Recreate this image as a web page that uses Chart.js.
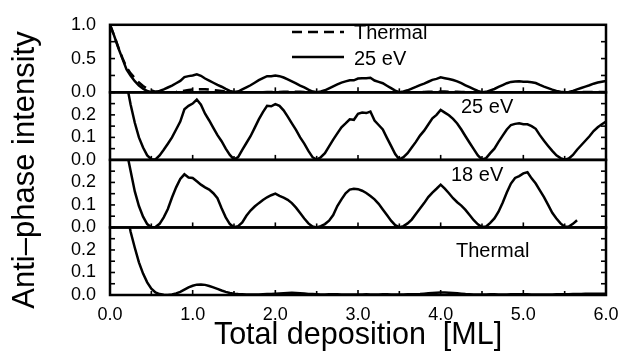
<!DOCTYPE html>
<html>
<head>
<meta charset="utf-8">
<script src="https://cdn.jsdelivr.net/npm/chart.js@4/dist/chart.umd.min.js"></script>
<style>
  html, body { margin: 0; padding: 0; background: #fff; }
  canvas { display: block; }
</style>
</head>
<body>
<canvas id="depositionChart" width="621" height="354"></canvas>
<script>
// deposition in ML, sampled every 0.05
const deposition = [
  0.00, 0.05, 0.10, 0.15, 0.20, 0.25, 0.30, 0.35, 0.40, 0.45, 0.50, 0.55, 0.60, 0.65, 0.70, 0.75, 0.80, 0.85, 0.90, 0.95,
  1.00, 1.05, 1.10, 1.15, 1.20, 1.25, 1.30, 1.35, 1.40, 1.45, 1.50, 1.55, 1.60, 1.65, 1.70, 1.75, 1.80, 1.85, 1.90, 1.95,
  2.00, 2.05, 2.10, 2.15, 2.20, 2.25, 2.30, 2.35, 2.40, 2.45, 2.50, 2.55, 2.60, 2.65, 2.70, 2.75, 2.80, 2.85, 2.90, 2.95,
  3.00, 3.05, 3.10, 3.15, 3.20, 3.25, 3.30, 3.35, 3.40, 3.45, 3.50, 3.55, 3.60, 3.65, 3.70, 3.75, 3.80, 3.85, 3.90, 3.95,
  4.00, 4.05, 4.10, 4.15, 4.20, 4.25, 4.30, 4.35, 4.40, 4.45, 4.50, 4.55, 4.60, 4.65, 4.70, 4.75, 4.80, 4.85, 4.90, 4.95,
  5.00, 5.05, 5.10, 5.15, 5.20, 5.25, 5.30, 5.35, 5.40, 5.45, 5.50, 5.55, 5.60, 5.65, 5.70, 5.75, 5.80, 5.85, 5.90, 5.95, 6.00
];

const intensity25eV = [
  1.0, 0.84, 0.66, 0.50, 0.34, 0.245, 0.165, 0.10, 0.055, 0.02, 0.003, 0.002, 0.02, 0.045, 0.072, 0.10, 0.135, 0.17, 0.225, 0.24,
  0.25, 0.268, 0.245, 0.205, 0.175, 0.142, 0.11, 0.083, 0.05, 0.022, 0.002, 0.012, 0.045, 0.075, 0.105, 0.142, 0.18, 0.212, 0.24, 0.238,
  0.248, 0.24, 0.22, 0.192, 0.162, 0.133, 0.10, 0.072, 0.04, 0.012, 0.001, 0.012, 0.03, 0.06, 0.09, 0.118, 0.145, 0.162, 0.18, 0.178,
  0.205, 0.21, 0.208, 0.215, 0.175, 0.155, 0.135, 0.098, 0.062, 0.026, 0.002, 0.012, 0.03, 0.055, 0.08, 0.108, 0.13, 0.157, 0.185, 0.20,
  0.222, 0.21, 0.198, 0.182, 0.162, 0.135, 0.105, 0.076, 0.048, 0.02, 0.002, 0.008, 0.03, 0.05, 0.08, 0.108, 0.135, 0.155, 0.16, 0.163,
  0.158, 0.158, 0.15, 0.138, 0.11, 0.085, 0.062, 0.04, 0.02, 0.008, 0.001, 0.006, 0.022, 0.045, 0.065, 0.085, 0.105, 0.128, 0.145, 0.158, 0.17
];

// 18 eV run stops at about 5.65 ML
const intensity18eV = [
  1.0, 0.84, 0.66, 0.50, 0.34, 0.25, 0.16, 0.095, 0.048, 0.015, 0.001, 0.002, 0.016, 0.045, 0.082, 0.133, 0.178, 0.215, 0.236, 0.222,
  0.22, 0.205, 0.19, 0.178, 0.168, 0.152, 0.13, 0.085, 0.045, 0.015, 0.001, 0.006, 0.022, 0.052, 0.075, 0.093, 0.108, 0.122, 0.134, 0.143,
  0.15, 0.14, 0.132, 0.123, 0.108, 0.088, 0.064, 0.04, 0.018, 0.004, 0.0, 0.006, 0.015, 0.03, 0.055, 0.095, 0.125, 0.152, 0.168, 0.172,
  0.17, 0.163, 0.153, 0.14, 0.125, 0.105, 0.08, 0.055, 0.03, 0.01, 0.001, 0.006, 0.018, 0.035, 0.06, 0.084, 0.108, 0.135, 0.155, 0.172,
  0.19, 0.172, 0.152, 0.13, 0.112, 0.097, 0.078, 0.055, 0.032, 0.014, 0.002, 0.004, 0.02, 0.04, 0.07, 0.11, 0.155, 0.195, 0.22, 0.228,
  0.24, 0.245, 0.218, 0.195, 0.165, 0.135, 0.10, 0.065, 0.04, 0.018, 0.003, 0.004, 0.016, 0.032
];

const intensityThermal = [
  1.0, 0.84, 0.67, 0.51, 0.37, 0.28, 0.21, 0.145, 0.095, 0.056, 0.028, 0.011, 0.004, 0.001, 0.0, 0.002, 0.007, 0.014, 0.024, 0.034,
  0.041, 0.046, 0.047, 0.045, 0.04, 0.034, 0.027, 0.02, 0.014, 0.009, 0.006, 0.004, 0.003, 0.002, 0.002, 0.002, 0.002, 0.003, 0.004, 0.005,
  0.006, 0.007, 0.008, 0.009, 0.01, 0.009, 0.008, 0.007, 0.005, 0.004, 0.003, 0.002, 0.002, 0.003, 0.003, 0.003, 0.002, 0.002, 0.002, 0.002,
  0.002, 0.002, 0.003, 0.002, 0.002, 0.002, 0.003, 0.003, 0.002, 0.002, 0.002, 0.002, 0.003, 0.003, 0.003, 0.004, 0.006, 0.008, 0.009, 0.01,
  0.011, 0.011, 0.01, 0.009, 0.008, 0.006, 0.004, 0.003, 0.002, 0.002, 0.002, 0.002, 0.003, 0.003, 0.002, 0.002, 0.002, 0.003, 0.003, 0.003,
  0.003, 0.003, 0.002, 0.002, 0.002, 0.002, 0.002, 0.002, 0.003, 0.003, 0.003, 0.003, 0.004, 0.004, 0.004, 0.005, 0.005, 0.005, 0.005, 0.005, 0.005
];

const xTickLabels = ["0.0", "1.0", "2.0", "3.0", "4.0", "5.0", "6.0"];
const topPanelLabels = ["0.0", "0.5", "1.0"];
const lowerPanelLabels = ["0.0", "0.1", "0.2"];

const FONT = "'Liberation Sans', Arial, Helvetica, sans-serif";
Chart.defaults.font.family = FONT;
Chart.defaults.color = "#000";

function points(values) {
  return values.map((v, i) => ({ x: deposition[i], y: v }));
}

function pickLabel(list) {
  return v => {
    const s = v.toFixed(1);
    const exact = Math.abs(v - Number(s)) < 1e-6;
    return exact && list.includes(s) ? s : "";
  };
}

function lineSet(label, values, axis, dashed) {
  return {
    label: label,
    data: points(values),
    yAxisID: axis,
    borderColor: "#000",
    borderWidth: 2.5,
    borderDash: dashed ? [10, 6] : [],
    pointRadius: 0,
    tension: 0,
    fill: false
  };
}

function panelAxis(max, step, labels) {
  return {
    type: "linear",
    position: "left",
    stack: "panels",
    stackWeight: 1,
    min: 0,
    max: max,
    grid: { display: false, drawTicks: false },
    border: { display: false },
    ticks: {
      stepSize: step,
      autoSkip: false,
      padding: 14,
      font: { size: 18 },
      callback: pickLabel(labels)
    },
    afterFit: s => { s.width = 110; }
  };
}

const panelIds = ["y1", "y2", "y3", "y4"];

// frame, inward ticks, legend and text
const panelDecor = {
  id: "panelDecor",
  beforeDatasetDraw(chart, args) {
    const { xScale, yScale } = args.meta;
    const ctx = chart.ctx;
    ctx.save();
    ctx.beginPath();
    ctx.rect(xScale.left, yScale.top, xScale.right - xScale.left, yScale.bottom - yScale.top);
    ctx.clip();
  },
  afterDatasetDraw(chart) {
    chart.ctx.restore();
  },
  afterDatasetsDraw(chart) {
    const ctx = chart.ctx;
    const x = chart.scales.x;
    const seg = (x0, y0, x1, y1) => { ctx.beginPath(); ctx.moveTo(x0, y0); ctx.lineTo(x1, y1); ctx.stroke(); };

    ctx.save();
    ctx.strokeStyle = "#000";
    ctx.setLineDash([]);

    panelIds.forEach(id => {
      const s = chart.scales[id];
      ctx.lineWidth = 1.6;
      s.ticks.forEach(t => {
        const py = s.getPixelForValue(t.value);
        seg(x.left, py, x.left + 5, py);
        seg(x.right - 5, py, x.right, py);
      });
      x.ticks.forEach(t => {
        const px = x.getPixelForValue(t.value);
        const len = Number.isInteger(Math.round(t.value * 100) / 100) ? 5 : 4;
        seg(px, s.bottom, px, s.bottom - len);
      });
      ctx.lineWidth = 2.5;
      ctx.strokeRect(x.left, s.top, x.right - x.left, s.bottom - s.top);
    });

    // legend in the top panel
    ctx.lineWidth = 2.5;
    ctx.setLineDash([10, 6]);
    seg(292, 32, 344, 32);
    ctx.setLineDash([]);
    seg(292, 57, 344, 57);

    ctx.fillStyle = "#000";
    ctx.font = "20px " + FONT;
    ctx.textAlign = "left";
    ctx.textBaseline = "alphabetic";
    ctx.fillText("Thermal", 354, 39);
    ctx.fillText("25 eV", 354, 65);
    ctx.fillText("25 eV", 461, 113);
    ctx.fillText("18 eV", 451, 181);
    ctx.fillText("Thermal", 456, 257);

    // axis titles
    ctx.font = "30.5px " + FONT;
    ctx.textAlign = "center";
    ctx.fillText("Total deposition  [ML]", (x.left + x.right) / 2, 344);

    ctx.save();
    ctx.translate(34, 170);
    ctx.rotate(-Math.PI / 2);
    ctx.font = "31px " + FONT;
    ctx.fillText("Anti\u2013phase intensity", 0, 0);
    ctx.restore();

    ctx.restore();
  }
};

new Chart(document.getElementById("depositionChart"), {
  type: "line",
  data: {
    datasets: [
      lineSet("Thermal", intensityThermal, "y1", true),
      lineSet("25 eV", intensity25eV, "y1", false),
      lineSet("25 eV", intensity25eV, "y2", false),
      lineSet("18 eV", intensity18eV, "y3", false),
      lineSet("Thermal", intensityThermal, "y4", false)
    ]
  },
  options: {
    responsive: false,
    animation: false,
    layout: { padding: { top: 17, right: 15, left: 0, bottom: 0 } },
    plugins: { legend: { display: false }, tooltip: { enabled: false } },
    scales: {
      x: {
        type: "linear",
        min: 0,
        max: 6,
        grid: { display: false, drawTicks: false },
        border: { display: false },
        ticks: {
          stepSize: 0.5,
          autoSkip: false,
          maxRotation: 0,
          padding: 9,
          font: { size: 18 },
          callback: pickLabel(xTickLabels)
        },
        afterFit: s => { s.height = 59; s.paddingLeft = 0; s.paddingRight = 0; }
      },
      y4: panelAxis(0.3, 0.05, lowerPanelLabels),
      y3: panelAxis(0.3, 0.05, lowerPanelLabels),
      y2: panelAxis(0.3, 0.05, lowerPanelLabels),
      y1: panelAxis(1.0, 0.25, topPanelLabels)
    }
  },
  plugins: [panelDecor]
});
</script>
</body>
</html>
